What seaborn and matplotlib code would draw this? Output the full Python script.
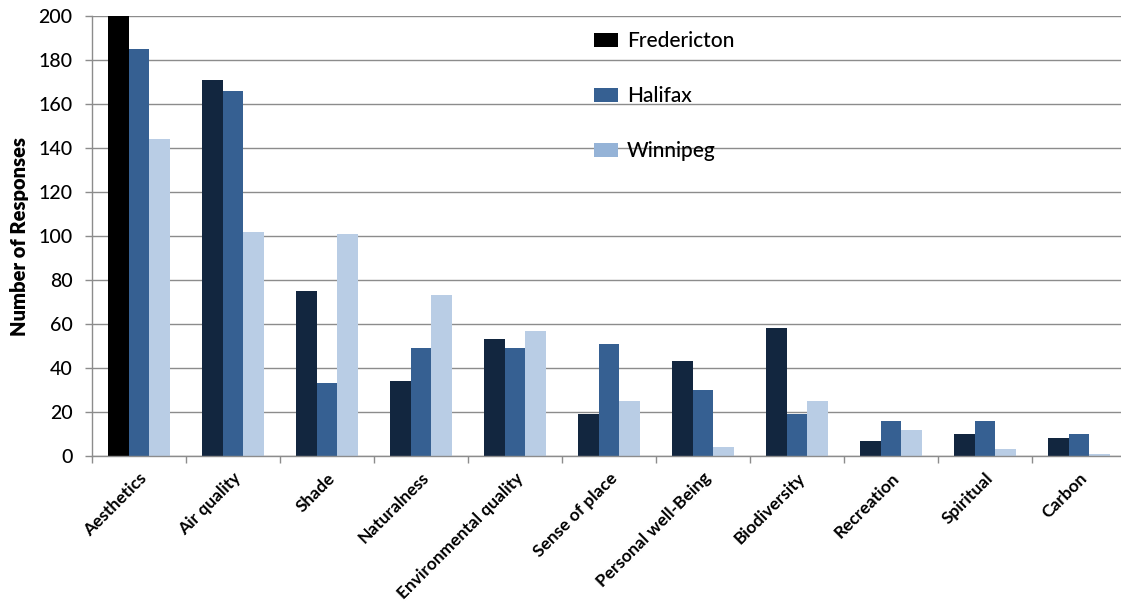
import matplotlib
matplotlib.use("Agg")
import matplotlib.pyplot as plt
from matplotlib.patches import Patch
import numpy as np
import pandas as pd
import seaborn as sns

categories = ["Aesthetics", "Air quality", "Shade", "Naturalness", "Environmental quality",
              "Sense of place", "Personal well-Being", "Biodiversity", "Recreation",
              "Spiritual", "Carbon"]
fredericton = [200, 171, 75, 34, 53, 19, 43, 58, 7, 10, 8]
halifax = [185, 166, 33, 49, 49, 51, 30, 19, 16, 16, 10]
winnipeg = [144, 102, 101, 73, 57, 25, 4, 25, 12, 3, 1]
cities = ["Fredericton", "Halifax", "Winnipeg"]

bar_colors = ["#12263F", "#366092", "#B9CDE5"]
legend_colors = ["#000000", "#366092", "#95B3D7"]

df = pd.DataFrame({
    "category": categories * 3,
    "city": [c for c in cities for _ in categories],
    "responses": fredericton + halifax + winnipeg,
})

sns.set_theme(style="white")
plt.rcParams["font.family"] = ["Lato", "DejaVu Sans"]
plt.rcParams["text.color"] = "black"
plt.rcParams["axes.labelcolor"] = "black"
plt.rcParams["xtick.color"] = "black"
plt.rcParams["ytick.color"] = "black"

fig = plt.figure(figsize=(11.21, 6.02), dpi=100)
ax = fig.add_axes([92 / 1121, (602 - 456) / 602, (1126 - 92) / 1121, 440 / 602])

sns.barplot(data=df, x="category", y="responses", hue="city", order=categories,
            hue_order=cities, palette=bar_colors, width=0.67, saturation=1,
            edgecolor="none", linewidth=0, legend=False, ax=ax)

# the leading Fredericton bar is drawn in solid black
ax.containers[0][0].set_facecolor("#000000")

ax.set_ylim(0, 200)
ax.set_xlim(-0.5, len(categories) - 0.5)
ax.set_yticks(np.arange(0, 201, 20))
ax.yaxis.grid(True, color="#8C8C8C", linewidth=1)
ax.set_axisbelow(True)

for side in ["top", "right"]:
    ax.spines[side].set_visible(False)
for side in ["left", "bottom"]:
    ax.spines[side].set_color("#8C8C8C")
    ax.spines[side].set_linewidth(1)

ax.set_xticks(np.arange(len(categories)))
ax.set_xticklabels(categories, rotation=45, ha="right", rotation_mode="anchor",
                   fontsize=12.5, fontweight="bold")
ax.set_xticks(np.arange(-0.5, len(categories) + 0.5, 1), minor=True)
ax.tick_params(axis="x", which="major", length=0, pad=10)
ax.tick_params(axis="x", which="minor", length=5, color="#8C8C8C", width=1, direction="out",
               bottom=True)
ax.tick_params(axis="y", length=5, color="#8C8C8C", width=1, direction="out", left=True,
               labelsize=14, pad=9)
for lbl in ax.get_yticklabels():
    lbl.set_fontweight("medium")

ax.set_xlabel("")
ax.set_ylabel("Number of Responses", fontsize=14.5, fontweight="heavy", labelpad=7)

handles = [Patch(facecolor=c, edgecolor="none") for c in legend_colors]
ax.legend(handles, cities, loc="upper left", bbox_to_anchor=(0.467, 1.008), frameon=False,
          handlelength=1.15, handleheight=0.7, handletextpad=0.45,
          labelspacing=1.68, prop={"size": 15, "weight": "medium"})

fig.savefig("out.png", dpi=100)
